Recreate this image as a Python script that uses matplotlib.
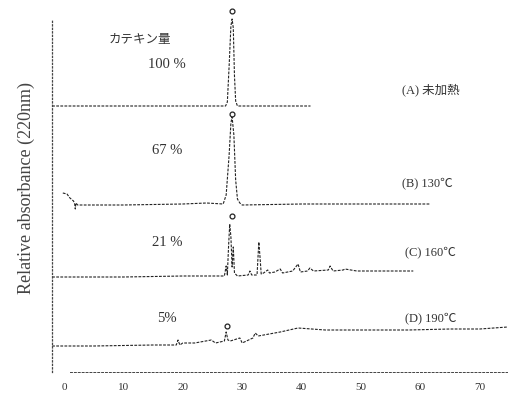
import numpy as np
import matplotlib.pyplot as plt

plt.rcParams['font.family'] = ['Liberation Serif', 'Noto Sans CJK JP']

# retention time (min) and signal (relative, above each baseline)
time_A = [-2.0, 10, 20, 27.2, 27.5, 27.8, 28.1, 28.3, 28.5, 28.7, 28.9, 29.2, 35, 41.5]
sig_A = [0, 0, 0, 0, 4, 40, 80, 87, 78, 30, 5, 0, 0, 0]

time_B = [-0.2, 0.5, 1.0, 1.6, 1.8, 1.9, 2.0, 2.3, 10, 20, 24.0, 26.8, 27.3, 27.8, 28.1, 28.3,
          28.6, 28.9, 29.2, 29.6, 30.0, 40, 50, 61.6]
sig_B = [12, 11, 7, 4, 1, -4, 2, 0, 0, 1, 2, 1, 10, 50, 82, 88, 70, 25, 6, 2, 0, 1, 1, 1]

time_C = [-2.0, 10, 20, 27.0, 27.3, 27.5, 27.7, 27.9, 28.1, 28.3, 28.5, 28.7, 29.2, 31.0, 31.3,
          31.6, 32.5, 32.8, 33.0, 33.2, 33.6, 34.3, 34.6, 35.5, 36.4, 36.8, 38.5, 39.4, 39.8,
          41.0, 41.4, 42, 44.5, 44.8, 45.3, 47.0, 47.3, 49.3, 58.8]
sig_C = [0, 0, 1, 1, 11, 2, 30, 53, 40, 10, 30, 4, 1, 2, 6, 2, 2, 35, 20, 3, 4, 7, 4, 5, 8, 4,
         6, 13, 5, 6, 9, 6, 7, 11, 6, 7, 8, 6, 6]

time_D = [-2.0, 5, 15, 18.9, 19.2, 19.5, 20.0, 22.0, 24.8, 25.5, 27.0, 27.3, 27.6, 28.0, 29.6,
          30.0, 31.8, 32.2, 32.7, 36.4, 39.4, 44, 50, 58, 65, 70, 74.7]
sig_D = [0, 0, 1, 1, 6, 1, 3, 3, 6, 3, 5, 14, 6, 5, 8, 3, 8, 13, 10, 14, 18, 16, 16, 16, 17, 17, 19]

baselines = [266, 167, 95, 26]
apex_t = [28.3, 28.3, 28.3, 27.4]
apex_mark = [95, 91, 61, 20]

percent_labels = ['100 %', '67 %', '21 %', '5%']
sample_labels = ['(A) 未加熱', '(B) 130℃', '(C) 160℃', '(D) 190℃']
xticks = [0, 10, 20, 30, 40, 50, 60, 70]

fig = plt.figure(figsize=(5.08, 3.95), dpi=100)
ax = fig.add_axes([52 / 508, 23 / 395, 456 / 508, 367 / 395])

traces = [(time_A, sig_A), (time_B, sig_B), (time_C, sig_C), (time_D, sig_D)]
for (t, s), base, ta, ym in zip(traces, baselines, apex_t, apex_mark):
    y = np.array(s) + base
    ax.plot(t, y, color='#222222', lw=0.8, ls=(0, (2.5, 1.2)))
    ax.plot(ta, base + ym, 'o', ms=3.5, mfc='white', mec='#222222', mew=0.9)

# label texts
ax.text(12.8, 332, 'カテキン量', fontsize=9, ha='center', va='center', color='#333333')
pct_y = [307, 222, 130, 54]
for lab, yy in zip(percent_labels, pct_y):
    ax.text(17.3, yy, lab, fontsize=10.5, ha='center', va='center', color='#333333')
samp_y = [282, 189, 120, 54]
samp_x = [56.9, 56.9, 57.4, 57.4]
for lab, xx, yy in zip(sample_labels, samp_x, samp_y):
    ax.text(xx, yy, lab, fontsize=9, ha='left', va='center', color='#333333')

ax.set_xlim(-2.02, 74.75)
ax.set_ylim(0, 367)
ax.set_xticks(xticks)
ax.set_xticklabels([str(v) for v in xticks], fontsize=8, color='#333333')
ax.tick_params(axis='x', length=0, pad=8)
ax.set_yticks([])
ax.set_ylabel('Relative absorbance (220nm)', fontsize=13, color='#444444', labelpad=12)

for side in ['top', 'right']:
    ax.spines[side].set_visible(False)
ax.spines['left'].set_linestyle((0, (1, 1.8)))
ax.spines['left'].set_linewidth(0.9)
ax.spines['left'].set_color('#444444')
ax.spines['left'].set_bounds(0, 352)
ax.spines['bottom'].set_linestyle((0, (2, 2)))
ax.spines['bottom'].set_linewidth(0.7)
ax.spines['bottom'].set_bounds(1.0, 74.75)
ax.spines['bottom'].set_color('#444444')
ax.patch.set_alpha(0)

fig.savefig('out.png', dpi=100)
